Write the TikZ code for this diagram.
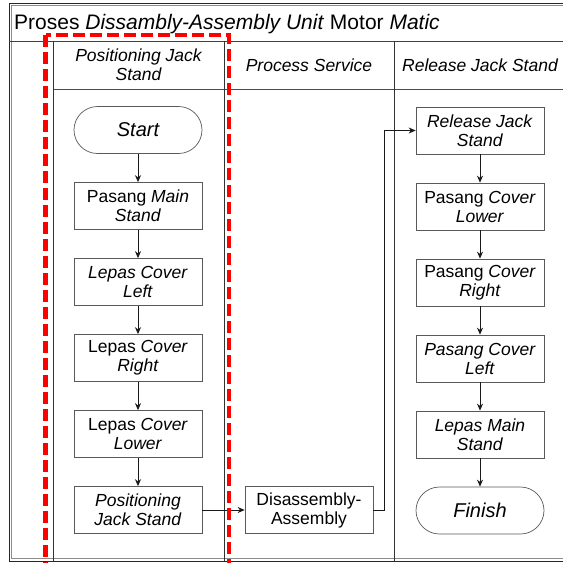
\documentclass[tikz,border=0pt]{standalone}
\usepackage{fontspec}
\setmainfont{Liberation Sans}
\usetikzlibrary{arrows.meta}
\begin{document}
\begin{tikzpicture}[x=1pt, y=1pt, >={Stealth[length=7pt, width=6pt]}, node distance=76pt,
  box/.style={draw=black!65, line width=0.7pt, rectangle, minimum width=128pt, minimum height=47pt, align=center, inner sep=1pt, font=\fontsize{17.5}{19}\selectfont},
  term/.style={box, rounded corners=23.5pt, font=\fontsize{20}{22}\selectfont\itshape},
  lanehead/.style={align=center, inner sep=1pt, font=\fontsize{17.5}{19}\selectfont\itshape},
  flow/.style={->, black!90, line width=0.8pt}]
  \useasboundingbox (0,0) rectangle (563,-563);
  % frame, title bar and lanes
  \draw[black!85, line width=0.8pt] (9,-3) rectangle (580,-561);
  \draw[black!45, line width=0.5pt] (11.5,-5.5) rectangle (578,-558.5);
  \draw[black!75, line width=0.8pt] (9,-41) -- (580,-41);
  \draw[black!70, line width=0.7pt] (53,-89) -- (580,-89);
  \draw[black!80, line width=0.8pt] (53,-41) -- (53,-561);
  \draw[black!80, line width=0.8pt] (224,-41) -- (224,-561);
  \draw[black!80, line width=0.8pt] (394,-41) -- (394,-561);
  \node[anchor=base west, inner sep=2pt, font=\fontsize{21}{24}\selectfont] (title) at (12,-29.5) {Proses \textit{Dissambly-Assembly Unit} Motor \textit{Matic}};
  \node[lanehead] (head1) at (138.5,-65) {Positioning Jack\\Stand};
  \node[lanehead] (head2) at (309,-65) {Process Service};
  \node[lanehead] (head3) at (480,-65) {Release Jack Stand};

  % lane 1
  \node[term] (start) at (138,-130) {Start};
  \node[box] (mainstand) [below of=start] {Pasang \textit{Main}\\\textit{Stand}};
  \node[box] (coverleft) [below of=mainstand] {\textit{Lepas Cover}\\\textit{Left}};
  \node[box] (coverright) [below of=coverleft] {Lepas \textit{Cover}\\\textit{Right}};
  \node[box] (coverlower) [below of=coverright] {Lepas \textit{Cover}\\\textit{Lower}};
  \node[box] (posjack) [below of=coverlower] {\textit{Positioning}\\\textit{Jack Stand}};

  % lane 2
  \node[box] (disasm) at (309,-510) {Disassembly-\\Assembly};

  % lane 3
  \node[box] (release) at (480,-130.5) {\textit{Release Jack}\\\textit{Stand}};
  \node[box] (pcoverlower) [below of=release] {Pasang \textit{Cover}\\\textit{Lower}};
  \node[box] (pcoverright) [below of=pcoverlower] {Pasang \textit{Cover}\\\textit{Right}};
  \node[box] (pcoverleft) [below of=pcoverright] {\textit{Pasang Cover}\\\textit{Left}};
  \node[box] (unmainstand) [below of=pcoverleft] {\textit{Lepas Main}\\\textit{Stand}};
  \node[term] (finish) [below of=unmainstand] {Finish};

  \draw[flow] (start) -- (mainstand);
  \draw[flow] (mainstand) -- (coverleft);
  \draw[flow] (coverleft) -- (coverright);
  \draw[flow] (coverright) -- (coverlower);
  \draw[flow] (coverlower) -- (posjack);
  \draw[flow] (posjack) -- (disasm);
  \draw[flow] (disasm.east) -- ++(11,0) |- (release.west);
  \draw[flow] (release) -- (pcoverlower);
  \draw[flow] (pcoverlower) -- (pcoverright);
  \draw[flow] (pcoverright) -- (pcoverleft);
  \draw[flow] (pcoverleft) -- (unmainstand);
  \draw[flow] (unmainstand) -- (finish);

  % highlighted lane
  \draw[red, line width=4.5pt, dash pattern=on 12pt off 5pt] (45.5,-35) rectangle (229,-568);
\end{tikzpicture}
\end{document}
